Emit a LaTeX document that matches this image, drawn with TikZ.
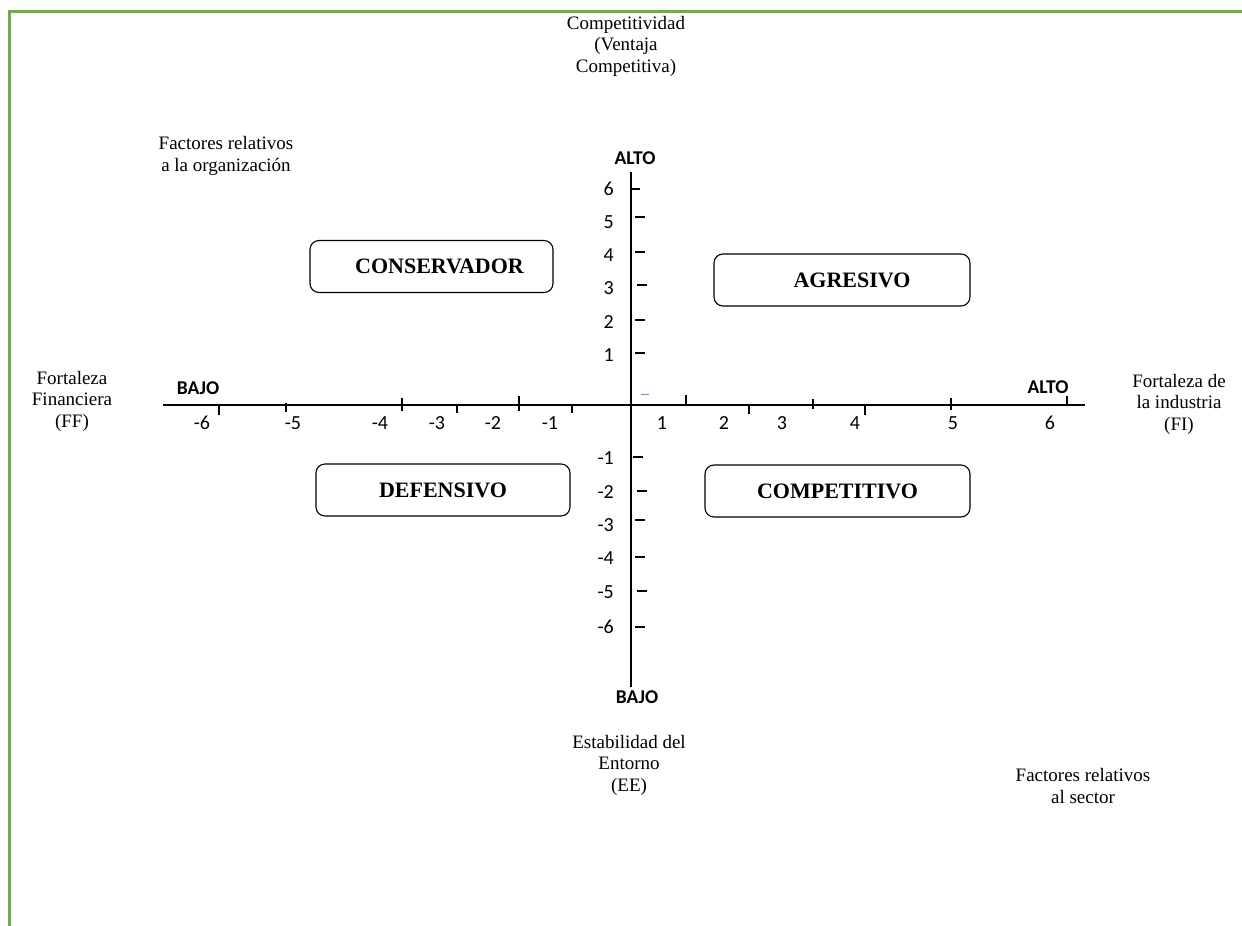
\documentclass[tikz,border=0pt]{standalone}
\usepackage{fontspec}
\setmainfont{Liberation Serif}
\newfontfamily\calibri{Carlito}
\usetikzlibrary{positioning, calc}
\usepackage{xcolor}
\definecolor{frameGreen}{RGB}{112,173,71}
\definecolor{markBlue}{RGB}{91,155,213}
\tikzset{
    font=\rmfamily,
    % Lines
    frameline/.style={draw=frameGreen, line width=3pt},
    axisline/.style={draw=black, line width=1.6pt},
    tickmark/.style={draw=black, line width=1.1pt},
    % Boxes
    quadbox/.style={rectangle, draw=black, line width=1.1pt, rounded corners=9pt,
                    minimum height=52pt, align=center, font=\fontsize{22}{26}\selectfont\bfseries},
    % Labels
    numlbl/.style={inner sep=0pt, font=\fontsize{20}{24}\selectfont\calibri},
    endlbl/.style={inner sep=0pt, font=\fontsize{19.5}{24}\selectfont\calibri\bfseries},
    desc/.style={inner sep=0pt, align=center, font=\fontsize{19}{21.5}\selectfont}
}
\begin{document}
\begin{tikzpicture}[x=1pt, y=-1pt]
\useasboundingbox (0,0) rectangle (1242,926);

% frame
\draw[frameline] (9,926) -- (9,11) -- (1242,11);

% axes
\coordinate (xl) at (163,405);
\coordinate (xr) at (1085,405);
\coordinate (yt) at (631,172);
\coordinate (yb) at (631,687);
\draw[axisline] (xl) -- (xr);
\draw[axisline] (yt) -- (yb);

% ticks on the horizontal axis
\foreach \x/\a/\b in {219/405/415, 286/403/412, 402/398/411, 457/405/413, 519/396/411, 572/405/413,
                      686/395/405, 749/405/414, 813/399/409, 865/405/415, 951/398/410, 1067/396/405}
    \draw[tickmark] (\x,\a) -- (\x,\b);
% ticks on the vertical axis
\foreach \y/\a/\b in {189/632/640, 217/635/645, 252/635/645, 285/637/647, 320/635/645, 353/635/645,
                      457/633/643, 491/637/647, 520/635/645, 557/635/645, 591/637/647, 627/635/645}
    \draw[tickmark] (\a,\y) -- (\b,\y);
\draw[markBlue, line width=1pt] (641,394) -- (649,394);

% numbers
\foreach \x/\t in {202/-6, 293/-5, 380/-4, 437/-3, 493/-2, 550/-1, 662/1, 724/2, 782/3, 855/4, 953/5, 1050/6}
    \node[numlbl] at (\x,423) {\t};
\foreach \y/\t in {189/6, 222/5, 255/4, 288/3, 322/2, 355/1, 458/-1, 492/-2, 525/-3, 558/-4, 592/-5, 627/-6}
    \node[numlbl, anchor=east] at (614,\y) {\t};

\node[endlbl] (bajoX) at (198,388) {BAJO};
\node[endlbl] (altoX) at (1048,387) {ALTO};
\node[endlbl] (altoY) at (635,158) {ALTO};
\node[endlbl] (bajoY) at (637,697) {BAJO};

% quadrants
\node[quadbox, minimum width=243pt] (conservador) at (431.5,266.5) {\hspace*{16pt}CONSERVADOR};
\node[quadbox, minimum width=256pt] (agresivo) at (842,280) {\hspace*{20pt}AGRESIVO};
\node[quadbox, minimum width=254pt] (defensivo) at (443,490) {DEFENSIVO};
\node[quadbox, minimum width=265pt] (competitivo) at (837.5,491) {COMPETITIVO};

% descriptions
\node[desc] (compet) at (626,46) {Competitividad\\(Ventaja\\Competitiva)};
\node[desc] (orgfac) at (226,156) {Factores relativos\\a la organización};
\node[desc] (ff) at (72,401) {Fortaleza\\Financiera\\(FF)};
\node[desc] (fi) at (1179,404) {Fortaleza de\\la industria\\(FI)};
\node[desc] (ee) at (629,765) {Estabilidad del\\Entorno\\(EE)};
\node[desc] (secfac) at (1083,786) {Factores relativos\\al sector};

\end{tikzpicture}
\end{document}
